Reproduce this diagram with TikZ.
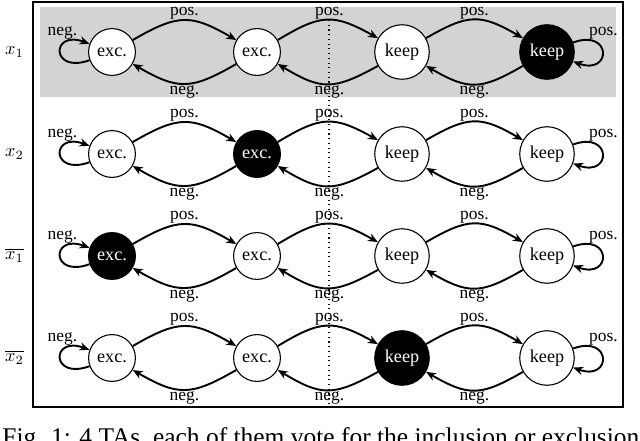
\documentclass[tikz,border=0pt]{standalone}
\usepackage{fontspec}
\setmainfont{Liberation Serif}
\usetikzlibrary{arrows.meta}
\definecolor{bandgray}{RGB}{211,211,211}
\tikzset{
  st/.style={circle, draw, line width=0.6pt, fill=white, font=\fontsize{10}{12}\selectfont, inner sep=3.33pt},
  stb/.style={st, fill=black, text=white},
  tr/.style={line width=1.05pt, -{Stealth[length=5.5pt,width=4.5pt]}},
  fw/.style={tr, bend left=30, looseness=1.3},
  lbl/.style={font=\fontsize{9.6}{11}\selectfont, inner sep=0pt},
  rowlab/.style={inner sep=0pt},
  lloop/.style={tr, loop, out=200, in=160, min distance=8mm},
  rloop/.style={tr, loop, out=20, in=-20, min distance=8mm},
}
\begin{document}
\begin{tikzpicture}[x=0.55pt,y=-0.55pt]
\useasboundingbox (0,0) rectangle (640,440);
\clip (0,0) rectangle (640,440);
\fill[bandgray] (40,7) rectangle (616,97);
\draw[line width=0.7pt] (33,2) rectangle (623,407);
\draw[dotted, line width=0.6pt] (329,20) -- (329,407);

% row labels
\node[rowlab] (r1) at (14.5,52) {$x_1$};
\node[rowlab] (r2) at (14.5,154) {$x_2$};
\node[rowlab] (r3) at (14.5,255) {$\overline{x_1}$};
\node[rowlab] (r4) at (14.5,357) {$\overline{x_2}$};

% row 1
\node[st]  (a1) at (112,52) {exc.};
\node[st]  (b1) at (257,52) {exc.};
\node[st]  (c1) at (402,52) {keep};
\node[stb] (d1) at (547,52) {keep};
% row 2
\node[st]  (a2) at (112,154) {exc.};
\node[stb] (b2) at (257,154) {exc.};
\node[st]  (c2) at (402,154) {keep};
\node[st]  (d2) at (547,154) {keep};
% row 3
\node[stb] (a3) at (112,256) {exc.};
\node[st]  (b3) at (257,256) {exc.};
\node[st]  (c3) at (402,256) {keep};
\node[st]  (d3) at (547,256) {keep};
% row 4
\node[st]  (a4) at (112,358) {exc.};
\node[st]  (b4) at (257,358) {exc.};
\node[stb] (c4) at (402,358) {keep};
\node[st]  (d4) at (547,358) {keep};

\foreach \r/\y in {1/52,2/154,3/256,4/358}{
  \draw[fw] (a\r) to (b\r);
  \draw[fw] (b\r) to (c\r);
  \draw[fw] (c\r) to (d\r);
  \draw[fw] (b\r) to (a\r);
  \draw[fw] (c\r) to (b\r);
  \draw[fw] (d\r) to (c\r);
  \draw[lloop] (a\r) to (a\r);
  \draw[rloop] (d\r) to (d\r);
  \node[lbl] (pab\r) at (184.5,\y-39) {pos.};
  \node[lbl] (pbc\r) at (329.5,\y-39) {pos.};
  \node[lbl] (pcd\r) at (474.5,\y-39) {pos.};
  \node[lbl] (nab\r) at (184.5,\y+40) {neg.};
  \node[lbl] (nbc\r) at (329.5,\y+40) {neg.};
  \node[lbl] (ncd\r) at (474.5,\y+40) {neg.};
  \node[lbl] (nl\r) at (62.5,\y-19) {neg.};
  \node[lbl] (pr\r) at (603.5,\y-19) {pos.};
}

\node[anchor=base west, inner sep=0pt, font=\fontsize{14}{16}\selectfont] (cap) at (2,445) {Fig. 1: 4 TAs, each of them vote for the inclusion or exclusion};
\end{tikzpicture}
\end{document}
